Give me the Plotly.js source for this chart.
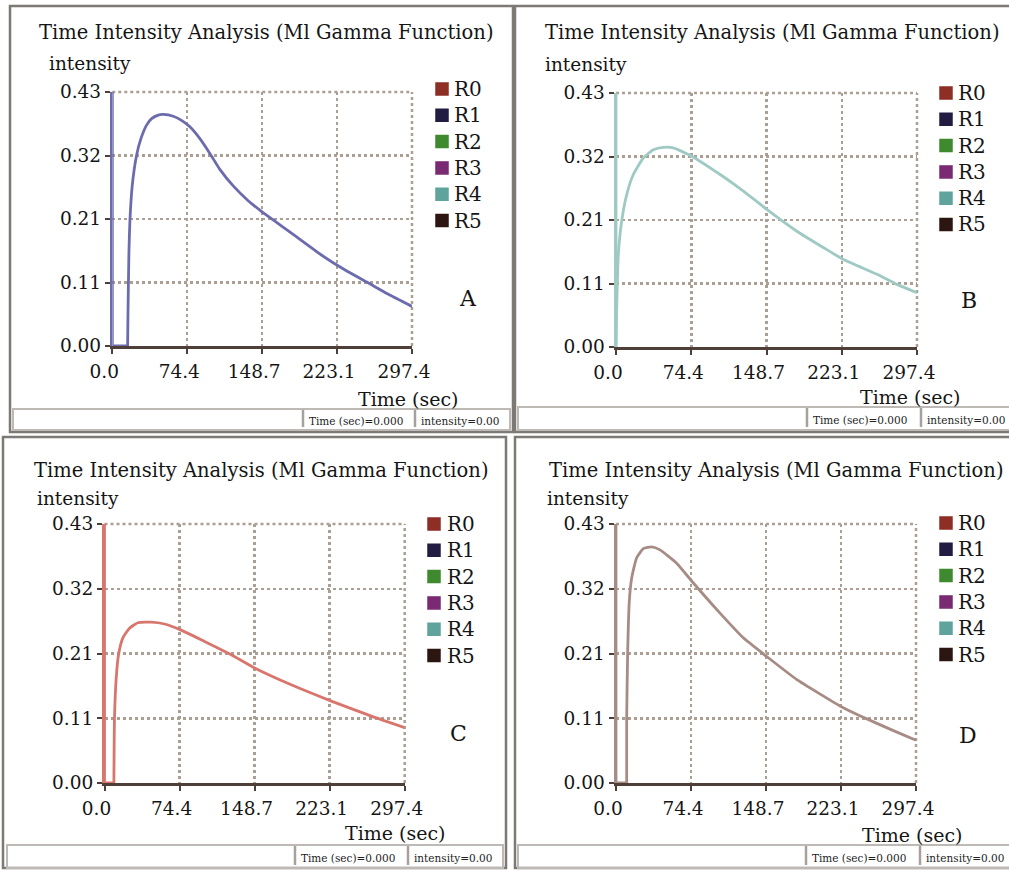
<!DOCTYPE html>
<html><head><meta charset="utf-8">
<script src="https://cdn.plot.ly/plotly-3.0.1.min.js"></script>
<style>html,body{margin:0;padding:0;background:#fff;}#chart{width:1009px;height:870px;}</style>
</head><body><div id="chart"></div>
<script>
// ---------- data ----------
const panelLetters = ['A', 'B', 'C', 'D'];
const chartTitle = 'Time Intensity Analysis (Ml Gamma Function)';
const yLabel = 'intensity';
const xLabel = 'Time (sec)';
const statusTime = 'Time (sec)=0.000';
const statusIntensity = 'intensity=0.00';

const timeA = [0, 0, 15.2, 15.5, 16.5, 17.5, 19.8, 24.1, 28.4, 34.0, 39.0, 45.6, 50.6, 60.5, 68.7, 77.0, 86.9, 96.8, 106.7, 120.0, 134.8, 148.0, 160.0, 177.8, 207.5, 230.6, 253.8, 273.6, 297.4];
const intensityA = [0.43, 0, 0, 0.047, 0.159, 0.213, 0.272, 0.323, 0.351, 0.374, 0.385, 0.391, 0.392, 0.389, 0.382, 0.371, 0.351, 0.326, 0.299, 0.271, 0.246, 0.228, 0.213, 0.191, 0.154, 0.129, 0.107, 0.088, 0.067];

const timeB = [0, 0, 0.7, 2.3, 5.6, 10.6, 17.1, 27.0, 36.9, 46.8, 56.7, 74.8, 102.9, 125.9, 149.0, 178.7, 205.2, 224.9, 257.8, 277.6, 297.4];
const intensityB = [0.43, 0, 0.066, 0.157, 0.213, 0.258, 0.292, 0.320, 0.334, 0.338, 0.337, 0.323, 0.292, 0.264, 0.233, 0.196, 0.168, 0.148, 0.123, 0.106, 0.092];

const timeC = [0, 0, 9.3, 9.9, 11.6, 13.9, 18.2, 24.8, 33.0, 46.3, 59.5, 74.3, 99.1, 125.6, 148.7, 185.0, 224.7, 264.4, 297.4];
const intensityC = [0.43, 0, 0, 0.108, 0.174, 0.213, 0.241, 0.257, 0.266, 0.267, 0.264, 0.255, 0.235, 0.213, 0.191, 0.163, 0.136, 0.111, 0.092];

const timeD = [0, 0, 10.6, 10.6, 11.6, 13.2, 15.5, 20.5, 27.1, 35.4, 43.6, 60.1, 76.7, 103.1, 126.2, 149.4, 179.0, 200.0, 223.0, 240.0, 275.0, 297.4];
const intensityD = [0.43, 0, 0, 0.108, 0.219, 0.302, 0.340, 0.374, 0.389, 0.392, 0.387, 0.365, 0.332, 0.282, 0.241, 0.210, 0.172, 0.150, 0.127, 0.113, 0.087, 0.071];

const seriesTimes = [timeA, timeB, timeC, timeD];
const seriesIntensity = [intensityA, intensityB, intensityC, intensityD];
// index where the initial spike ends and the fitted curve begins
const curveStart = [2, 1, 2, 2];
const curveColors = ['#6b6bad', '#9ecac3', '#d8766d', '#a78c85'];

const xTickVals = [0, 74.35, 148.7, 223.05, 297.4];
const xTickText = ['0.0', '74.4', '148.7', '223.1', '297.4'];
const yTickVals = [0, 0.1075, 0.215, 0.3225, 0.43];
const yTickText = ['0.00', '0.11', '0.21', '0.32', '0.43'];

const legendNames = ['R0', 'R1', 'R2', 'R3', 'R4', 'R5'];
const legendColors = ['#8e2e24', '#221c42', '#3f8a2e', '#7a2a72', '#5ea39c', '#2c1612'];

// ---------- layout geometry (pixels) ----------
const W = 1009, H = 870;
const FONT = 'DejaVu Serif, serif';
const GRID = '#aa9f92';
const AXIS = '#4e4038';
const panels = [
  {frame: [10, 6, 513, 432], plot: [112.3, 92, 412, 346], title: [37, 33], ylab: [47, 63], xlab: [408, 399], legSq: 436, legText: 452, legY0: 89, letter: [468, 298], status: [13, 409, 510, 430], div: [303, 415]},
  {frame: [515, 6, 1014, 432], plot: [616, 93, 917, 347], title: [543, 33], ylab: [543, 65], xlab: [910, 397], legSq: 940, legText: 956, legY0: 93, letter: [969, 300], status: [518, 407, 1014, 430], div: [807, 921]},
  {frame: [3, 437, 506, 868], plot: [104.5, 524, 404.7, 783], title: [32, 470], ylab: [35, 498], xlab: [395, 833], legSq: 428, legText: 445, legY0: 524, letter: [458, 733], status: [7, 845, 503, 868], div: [295, 408]},
  {frame: [515, 437, 1014, 868], plot: [616, 524, 916, 783], title: [547, 470], ylab: [545, 498], xlab: [912, 835], legSq: 940, legText: 956, legY0: 523, letter: [968, 735], status: [518, 845, 1014, 868], div: [806, 920]}
];
const px = x => x / W;
const py = y => 1 - y / H;

const data = [];
const layout = {
  width: W, height: H,
  margin: {l: 0, r: 0, t: 0, b: 0},
  paper_bgcolor: '#ffffff', plot_bgcolor: '#ffffff',
  showlegend: false,
  shapes: [], annotations: []
};

panels.forEach((p, i) => {
  const n = i === 0 ? '' : String(i + 1);
  const k = curveStart[i];
  // initial spike (straight segments)
  data.push({
    type: 'scatter', mode: 'lines',
    x: seriesTimes[i].slice(0, k + 1), y: seriesIntensity[i].slice(0, k + 1),
    xaxis: 'x' + n, yaxis: 'y' + n,
    line: {color: curveColors[i], width: 2.8},
    hoverinfo: 'skip'
  });
  // fitted gamma curve
  data.push({
    type: 'scatter', mode: 'lines',
    x: seriesTimes[i].slice(k), y: seriesIntensity[i].slice(k),
    xaxis: 'x' + n, yaxis: 'y' + n,
    line: {color: curveColors[i], width: 2.8, shape: 'spline', smoothing: 0.5},
    hoverinfo: 'skip'
  });
  layout['xaxis' + n] = {
    domain: [px(p.plot[0]), px(p.plot[2])], anchor: 'y' + n,
    range: [0, 297.4], tickvals: xTickVals, ticktext: xTickText,
    showgrid: true, gridcolor: GRID, gridwidth: 2.5, griddash: 'dot',
    showline: true, linecolor: AXIS, linewidth: 3,
    ticks: 'outside', ticklen: 5, tickwidth: 2, tickcolor: AXIS,
    tickfont: {family: FONT, size: 18.5, color: '#151515'},
    ticklabelshift: -8, ticklabelstandoff: 2,
    zeroline: false, fixedrange: true
  };
  layout['yaxis' + n] = {
    domain: [py(p.plot[3]), py(p.plot[1])], anchor: 'x' + n,
    range: [0, 0.43], tickvals: yTickVals, ticktext: yTickText,
    showgrid: true, gridcolor: GRID, gridwidth: 2.5, griddash: 'dot',
    showline: true, linecolor: curveColors[i], linewidth: 2.5,
    ticks: 'outside', ticklen: 5, tickwidth: 2, tickcolor: AXIS,
    tickfont: {family: FONT, size: 18.5, color: '#151515'},
    zeroline: false, fixedrange: true
  };
  // dotted top & right borders of the plot area (grid at range ends)
  layout.shapes.push({type: 'line', xref: 'x' + n + ' domain', yref: 'y' + n + ' domain', x0: 0, x1: 1, y0: 1, y1: 1, line: {color: GRID, width: 2.5, dash: 'dot'}, layer: 'below'});
  layout.shapes.push({type: 'line', xref: 'x' + n + ' domain', yref: 'y' + n + ' domain', x0: 1, x1: 1, y0: 0, y1: 1, line: {color: GRID, width: 2.5, dash: 'dot'}, layer: 'below'});
  // panel frame
  layout.shapes.push({type: 'rect', xref: 'paper', yref: 'paper', x0: px(p.frame[0]), x1: px(p.frame[2]), y0: py(p.frame[3]), y1: py(p.frame[1]), line: {color: '#7d7975', width: 2.5}, layer: 'below'});
  // status bar
  layout.shapes.push({type: 'rect', xref: 'paper', yref: 'paper', x0: px(p.status[0]), x1: px(p.status[2]), y0: py(p.status[3]), y1: py(p.status[1]), line: {color: '#bdbab6', width: 2}, layer: 'below'});
  p.div.forEach(d => {
    layout.shapes.push({type: 'line', xref: 'paper', yref: 'paper', x0: px(d), x1: px(d), y0: py(p.status[3] - 3), y1: py(p.status[1] + 1), line: {color: '#a5a29e', width: 2.5}});
  });
  // titles & labels
  layout.annotations.push({text: chartTitle, xref: 'paper', yref: 'paper', x: px(p.title[0]), y: py(p.title[1]), xanchor: 'left', yanchor: 'middle', showarrow: false, font: {family: FONT, size: 19.5, color: '#151515'}});
  layout.annotations.push({text: yLabel, xref: 'paper', yref: 'paper', x: px(p.ylab[0]), y: py(p.ylab[1]), xanchor: 'left', yanchor: 'middle', showarrow: false, font: {family: FONT, size: 18.5, color: '#151515'}});
  layout.annotations.push({text: xLabel, xref: 'paper', yref: 'paper', x: px(p.xlab[0]), y: py(p.xlab[1]), xanchor: 'center', yanchor: 'middle', showarrow: false, font: {family: FONT, size: 19, color: '#151515'}});
  layout.annotations.push({text: panelLetters[i], xref: 'paper', yref: 'paper', x: px(p.letter[0]), y: py(p.letter[1]), xanchor: 'center', yanchor: 'middle', showarrow: false, font: {family: FONT, size: 22, color: '#151515'}});
  layout.annotations.push({text: statusTime, xref: 'paper', yref: 'paper', x: px(p.div[0] + 4), y: py((p.status[1] + p.status[3]) / 2 + 1), xanchor: 'left', yanchor: 'middle', showarrow: false, font: {family: FONT, size: 10.5, color: '#222'}});
  layout.annotations.push({text: statusIntensity, xref: 'paper', yref: 'paper', x: px(p.div[1] + 4), y: py((p.status[1] + p.status[3]) / 2 + 1), xanchor: 'left', yanchor: 'middle', showarrow: false, font: {family: FONT, size: 10.5, color: '#222'}});
  // legend
  legendNames.forEach((name, j) => {
    const cy = p.legY0 + j * 26.3;
    layout.shapes.push({type: 'rect', xref: 'paper', yref: 'paper', x0: px(p.legSq), x1: px(p.legSq + 12), y0: py(cy + 6), y1: py(cy - 6), fillcolor: legendColors[j], line: {color: legendColors[j], width: 1.5}});
    layout.annotations.push({text: name, xref: 'paper', yref: 'paper', x: px(p.legText), y: py(cy), xanchor: 'left', yanchor: 'middle', showarrow: false, font: {family: FONT, size: 20, color: '#151515'}});
  });
});

Plotly.newPlot('chart', data, layout, {displayModeBar: false, staticPlot: true});
</script>
</body></html>
